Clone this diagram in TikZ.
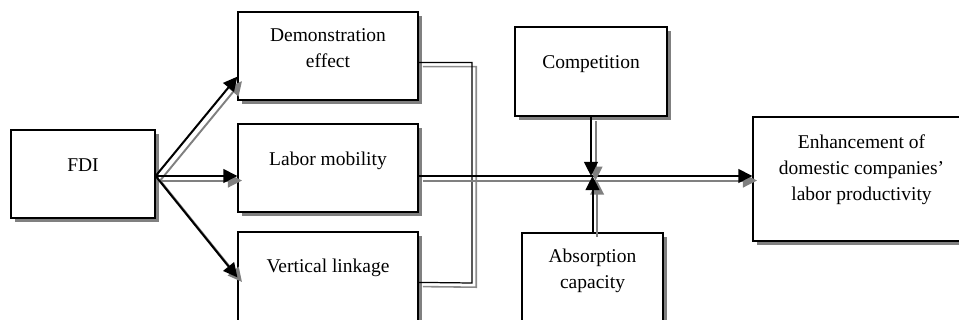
\documentclass[tikz,border=0pt]{standalone}
\usepackage{fontspec}
\setmainfont{Liberation Serif}
\usetikzlibrary{calc,shadows,arrows.meta}

\begin{document}
\begin{tikzpicture}[x=0.02cm,y=-0.02cm,
  box/.style={draw, line width=0.7pt, fill=white,
    drop shadow={shadow xshift=2.4pt, shadow yshift=-2.4pt, fill=black!50, opacity=1}},
  txt/.style={align=center, inner sep=0pt, font=\fontsize{11.1}{14.8}\selectfont},
  link/.style={line width=0.7pt,
    preaction={draw=black!45, line width=0.9pt, transform canvas={xshift=2.4pt, yshift=-2.4pt}}},
  arr/.style={line width=1.15pt, -{Triangle[length=8pt,width=7.8pt]},
    preaction={draw=black!50, line width=1.1pt, -{Triangle[length=8pt,width=7.8pt]},
      transform canvas={xshift=2.6pt, yshift=-2.6pt}}}]
\useasboundingbox (0,0) rectangle (959,320);
% boxes
\node[box, minimum width=2.88cm, minimum height=1.76cm] (fdi) at (83,174) {};
\node[box, minimum width=3.6cm, minimum height=1.76cm] (demo) at (328,56) {};
\node[box, minimum width=3.6cm, minimum height=1.76cm] (labor) at (328,168) {};
\node[box, minimum width=3.6cm, minimum height=1.92cm] (vert) at (328,280) {};
\node[box, minimum width=3.04cm, minimum height=1.78cm] (comp) at (591,71.5) {};
\node[box, minimum width=2.82cm, minimum height=1.84cm] (absorb) at (592.5,279) {};
\node[box, minimum width=4.34cm, minimum height=2.48cm] (enh) at (861.5,179) {};
% texts
\node[txt] (fdi-t) at ($(fdi.north)+(0,36)$) {FDI};
\node[txt] (demo-t) at ($(demo.north)+(0,37)$) {Demonstration\\effect};
\node[txt] (labor-t) at ($(labor.north)+(0,37)$) {Labor mobility};
\node[txt] (vert-t) at ($(vert.north)+(0,36)$) {Vertical linkage};
\node[txt] (comp-t) at ($(comp.north)+(0,38)$) {Competition};
\node[txt] (absorb-t) at ($(absorb.north)+(0,38.5)$) {Absorption\\capacity};
\node[txt] (enh-t) at ($(enh.north)+(0,53)$) {Enhancement of\\domestic companies'\\labor productivity};
% connectors
\coordinate (hub) at (592,176);
\draw[arr] (fdi.east |- hub) -- ($(demo.south west)+(0,-24)$);
\draw[arr] (fdi.east |- hub) -- (labor.west |- hub);
\draw[arr] (fdi.east |- hub) -- ($(vert.north west)+(0,46)$);
\draw[link] ($(demo.north east)+(0,51)$) -| (472,283) -- ($(vert.north east)+(0,51)$);
\draw[arr] (labor.east |- hub) -- (enh.west |- hub);
\draw[arr] (comp.south) -- (comp.south |- hub);
\draw[arr] (absorb.north) -- (absorb.north |- hub);
\end{tikzpicture}
\end{document}
